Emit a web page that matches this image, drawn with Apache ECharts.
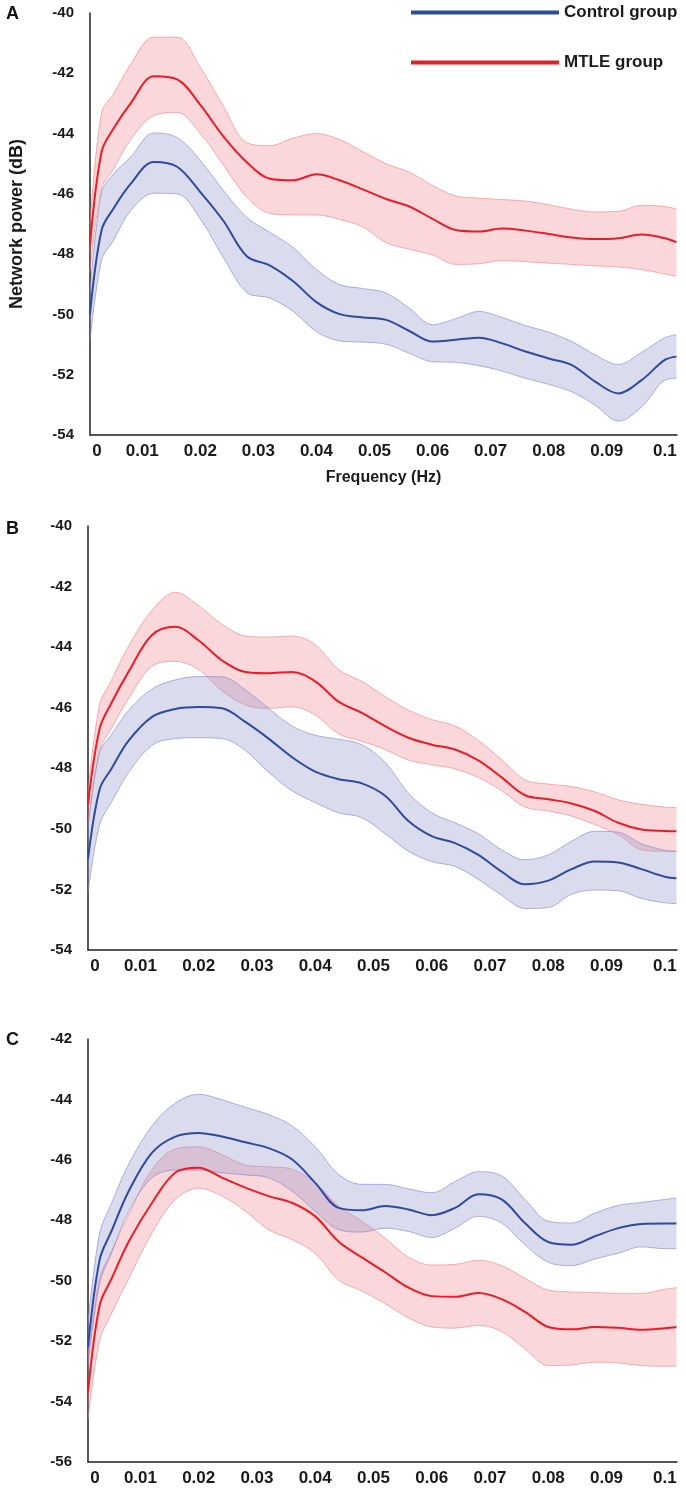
<!DOCTYPE html>
<html>
<head>
<meta charset="utf-8">
<script src="https://cdn.jsdelivr.net/npm/echarts@6/dist/echarts.min.js"></script>
<style>
html, body { margin: 0; padding: 0; background: #fff; }
#main { width: 686px; height: 1492px; }
</style>
</head>
<body>
<div id="main"></div>
<script>
// frequency (Hz) of each sampled point
const freq = [0.001, 0.003, 0.005, 0.008, 0.012, 0.016, 0.020, 0.024, 0.028, 0.032, 0.036, 0.040, 0.044,
  0.048, 0.052, 0.056, 0.060, 0.064, 0.068, 0.072, 0.076, 0.080, 0.084, 0.088, 0.092, 0.096, 0.100, 0.102];
const xTickValues = [0.001, 0.01, 0.02, 0.03, 0.04, 0.05, 0.06, 0.07, 0.08, 0.09, 0.1];

// panel A
const aCtrlMean = [-50.0, -47.2, -46.5, -45.67, -44.94, -45.1, -45.94, -46.9, -48.07, -48.38, -48.9, -49.59, -49.99,
  -50.1, -50.18, -50.55, -50.9, -50.84, -50.77, -50.96, -51.23, -51.46, -51.68, -52.23, -52.62, -52.18, -51.51, -51.4];
const aCtrlHigh = [-49.3, -45.94, -45.35, -44.78, -43.98, -44.13, -44.89, -45.89, -46.78, -47.28, -47.78, -48.51, -49.01,
  -49.14, -49.29, -49.79, -50.34, -50.14, -49.9, -50.1, -50.37, -50.59, -50.9, -51.34, -51.66, -51.26, -50.77, -50.68];
const aCtrlLow = [-50.9, -48.2, -47.56, -46.56, -45.98, -46.0, -46.83, -48.12, -49.27, -49.46, -49.9, -50.57, -50.88,
  -50.92, -50.99, -51.29, -51.57, -51.59, -51.7, -51.88, -52.12, -52.32, -52.57, -53.01, -53.54, -53.07, -52.18, -52.12];
const aMtleMean = [-47.7, -44.6, -43.85, -43.0, -42.1, -42.2, -43.05, -44.1, -44.95, -45.5, -45.55, -45.35, -45.55,
  -45.85, -46.17, -46.42, -46.83, -47.2, -47.25, -47.15, -47.22, -47.33, -47.45, -47.5, -47.47, -47.35, -47.47, -47.6];
const aMtleHigh = [-47.0, -43.3, -42.7, -41.7, -40.8, -40.8, -41.8, -43.1, -44.3, -44.4, -44.15, -44.0, -44.2,
  -44.6, -45.0, -45.28, -45.72, -46.07, -46.14, -46.19, -46.24, -46.36, -46.51, -46.6, -46.58, -46.38, -46.42, -46.5];
const aMtleLow = [-48.6, -45.8, -45.2, -44.2, -43.4, -43.3, -44.0, -45.05, -46.1, -46.65, -46.7, -46.7, -46.85,
  -47.1, -47.62, -47.84, -48.03, -48.34, -48.32, -48.21, -48.25, -48.3, -48.34, -48.39, -48.43, -48.51, -48.66, -48.73];

// panel B
const bCtrlMean = [-51.0, -48.69, -48.02, -47.08, -46.3, -46.04, -45.98, -46.02, -46.47, -47.02, -47.63, -48.11, -48.36,
  -48.5, -48.91, -49.74, -50.24, -50.47, -50.86, -51.41, -51.83, -51.71, -51.33, -51.08, -51.11, -51.33, -51.58, -51.63];
const bCtrlHigh = [-50.0, -47.47, -46.9, -46.08, -45.38, -45.08, -44.97, -44.98, -45.41, -46.02, -46.6, -46.91, -47.04,
  -47.22, -47.8, -48.82, -49.47, -49.8, -50.16, -50.69, -51.02, -50.86, -50.41, -50.08, -50.11, -50.49, -50.71, -50.74];
const bCtrlLow = [-52.1, -49.86, -49.13, -48.13, -47.24, -47.02, -46.99, -47.02, -47.41, -48.13, -48.74, -49.13, -49.47,
  -49.63, -50.16, -50.74, -51.08, -51.24, -51.67, -52.19, -52.63, -52.6, -52.16, -52.02, -52.04, -52.3, -52.44, -52.47];
const bMtleMean = [-49.2, -46.69, -45.85, -44.8, -43.6, -43.33, -43.78, -44.44, -44.82, -44.86, -44.82, -45.13, -45.8,
  -46.17, -46.61, -46.99, -47.22, -47.38, -47.74, -48.3, -48.89, -49.02, -49.16, -49.41, -49.8, -50.02, -50.07, -50.08];
const bMtleHigh = [-48.8, -45.89, -45.1, -43.95, -42.78, -42.19, -42.63, -43.24, -43.63, -43.67, -43.63, -43.91, -44.74,
  -45.13, -45.63, -46.08, -46.39, -46.6, -47.08, -47.71, -48.38, -48.52, -48.6, -48.78, -49.04, -49.19, -49.28, -49.3];
const bMtleLow = [-49.8, -47.41, -46.69, -45.69, -44.63, -44.47, -44.74, -45.44, -45.91, -46.02, -45.97, -46.24, -46.86,
  -47.11, -47.38, -47.73, -47.88, -48.02, -48.3, -48.74, -49.28, -49.41, -49.58, -49.86, -50.19, -50.69, -50.74, -50.74];

// panel C
const cCtrlMean = [-52.2, -49.31, -48.37, -47.03, -45.76, -45.23, -45.11, -45.23, -45.42, -45.61, -45.98, -46.76, -47.59,
  -47.67, -47.53, -47.64, -47.83, -47.59, -47.14, -47.31, -48.09, -48.72, -48.81, -48.53, -48.26, -48.12, -48.11, -48.11];
const cCtrlHigh = [-51.4, -48.42, -47.45, -46.14, -44.87, -44.12, -43.83, -44.01, -44.26, -44.5, -44.87, -45.57, -46.48,
  -46.81, -46.81, -46.96, -47.09, -46.72, -46.39, -46.53, -47.31, -48.03, -48.09, -47.76, -47.51, -47.41, -47.31, -47.26];
const cCtrlLow = [-52.8, -50.09, -49.1, -47.7, -46.59, -46.34, -46.34, -46.43, -46.5, -46.59, -47.03, -47.7, -48.31,
  -48.39, -48.26, -48.37, -48.57, -48.26, -47.87, -48.09, -48.81, -49.39, -49.5, -49.28, -49.09, -48.88, -48.94, -48.94];
const cMtleMean = [-53.7, -50.81, -49.95, -48.7, -47.42, -46.42, -46.26, -46.59, -46.92, -47.2, -47.42, -47.87, -48.7,
  -49.23, -49.72, -50.23, -50.51, -50.53, -50.41, -50.61, -51.03, -51.53, -51.61, -51.53, -51.56, -51.62, -51.57, -51.53];
const cMtleHigh = [-52.5, -49.92, -49.05, -47.81, -46.31, -45.64, -45.57, -45.83, -46.17, -46.23, -46.31, -46.76, -47.53,
  -48.03, -48.59, -49.22, -49.48, -49.46, -49.32, -49.5, -49.92, -50.31, -50.37, -50.39, -50.42, -50.42, -50.28, -50.23];
const cMtleLow = [-54.6, -51.98, -51.1, -49.92, -48.42, -47.31, -46.94, -47.2, -47.7, -48.31, -48.64, -49.09, -49.98,
  -50.34, -50.76, -51.23, -51.53, -51.57, -51.48, -51.68, -52.26, -52.81, -52.79, -52.7, -52.72, -52.81, -52.83, -52.83];

const groupNames = ['Control group', 'MTLE group'];
const panelLetters = ['A', 'B', 'C'];
const yRanges = [[-54, -40], [-54, -40], [-56, -42]];

const panels = [
  { ctrl: [aCtrlMean, aCtrlLow, aCtrlHigh], mtle: [aMtleMean, aMtleLow, aMtleHigh] },
  { ctrl: [bCtrlMean, bCtrlLow, bCtrlHigh], mtle: [bMtleMean, bMtleLow, bMtleHigh] },
  { ctrl: [cCtrlMean, cCtrlLow, cCtrlHigh], mtle: [cMtleMean, cMtleLow, cMtleHigh] }
];

const FONT = '"Liberation Sans", Arial, sans-serif';
const gridTops = [13, 526, 1039];
const gridHeights = [422, 424, 423];

const style = {
  ctrl: { line: '#2d4a9e', fill: 'rgba(150,150,205,0.34)', edge: 'rgba(130,130,200,0.75)' },
  mtle: { line: '#ea1c26', fill: 'rgba(238,122,132,0.30)', edge: 'rgba(235,120,130,0.7)' }
};

const pair = ys => freq.map((f, i) => [f, ys[i]]);
// band rows are [value, freq] so the stacked dimension is the power value
const bandRow = ys => freq.map((f, i) => [ys[i], f]);

const grids = [], xAxes = [], yAxes = [], series = [];

panels.forEach((p, k) => {
  grids.push({ left: 88, top: gridTops[k], width: 589, height: gridHeights[k] });

  xAxes.push({
    type: 'value', gridIndex: k, min: 0.001, max: 0.1021,
    name: k === 0 ? 'Frequency (Hz)' : '',
    nameLocation: 'middle', nameGap: 35,
    nameTextStyle: { fontFamily: FONT, fontSize: 16, fontWeight: 'bold', color: '#1a1a1a' },
    axisLine: { show: true, onZero: false, lineStyle: { color: '#222', width: 1.5 } },
    axisTick: { show: false },
    splitLine: { show: false },
    axisLabel: {
      customValues: xTickValues,
      margin: 8,
      fontFamily: FONT, fontSize: 17, fontWeight: 'bold', color: '#1a1a1a',
      formatter: v => v < 0.005 ? '{z|0}' : String(v),
      rich: { z: { fontFamily: FONT, fontSize: 17, fontWeight: 'bold', color: '#1a1a1a', padding: [0, 0, 0, 14] } }
    }
  });

  yAxes.push({
    type: 'value', gridIndex: k, min: yRanges[k][0], max: yRanges[k][1], interval: 2,
    name: k === 0 ? 'Network power (dB)' : '',
    nameLocation: 'middle', nameGap: 64, nameRotate: 90,
    nameTextStyle: { fontFamily: FONT, fontSize: 18, fontWeight: 'bold', color: '#1a1a1a' },
    axisLine: { show: true, lineStyle: { color: '#222', width: 1.5 } },
    axisTick: { show: false },
    splitLine: { show: false },
    axisLabel: { margin: 16, fontFamily: FONT, fontSize: 15, fontWeight: 'bold', color: '#1a1a1a' }
  });

  // bands first (MTLE then control), mean lines on top
  [['mtle', p.mtle], ['ctrl', p.ctrl]].forEach(([key, arr], j) => {
    const [mean, low, high] = arr;
    const st = style[key];
    const stackId = 'band' + k + key;
    series.push({
      type: 'line', xAxisIndex: k, yAxisIndex: k, stack: stackId, stackStrategy: 'all',
      encode: { x: 1, y: 0 },
      data: bandRow(low), symbol: 'none', smooth: 0.35, silent: true, z: 1 + j,
      lineStyle: { color: st.edge, width: 0.8 }
    });
    series.push({
      type: 'line', xAxisIndex: k, yAxisIndex: k, stack: stackId, stackStrategy: 'all',
      encode: { x: 1, y: 0 },
      data: bandRow(high.map((h, i) => +(h - low[i]).toFixed(3))),
      symbol: 'none', smooth: 0.35, silent: true, z: 1 + j,
      lineStyle: { color: st.edge, width: 0.8 },
      areaStyle: { color: st.fill, opacity: 1 }
    });
  });

  [['mtle', p.mtle, 1], ['ctrl', p.ctrl, 0]].forEach(([key, arr, gi]) => {
    series.push({
      name: groupNames[gi], type: 'line', xAxisIndex: k, yAxisIndex: k,
      data: pair(arr[0]), symbol: 'none', smooth: 0.35, z: 5,
      color: style[key].line,
      lineStyle: { color: style[key].line, width: 2 }
    });
  });
});

const letterTops = [14, 529, 1040];

const option = {
  backgroundColor: '#fff',
  animation: false,
  grid: grids,
  xAxis: xAxes,
  yAxis: yAxes,
  legend: {
    data: groupNames,
    orient: 'vertical',
    left: 411, top: 4, padding: 0,
    itemWidth: 148, itemHeight: 4, itemGap: 33,
    icon: 'rect',
    textStyle: { fontFamily: FONT, fontSize: 17, fontWeight: 'bold', color: '#1a1a1a' }
  },
  graphic: panelLetters.map((t, k) => ({
    type: 'text', left: 6, top: letterTops[k] - 9,
    style: { text: t, fontFamily: FONT, fontSize: 18, fontWeight: 'bold', fill: '#111' }
  })),
  series: series
};

const chart = echarts.init(document.getElementById('main'), null, { renderer: 'canvas' });
chart.setOption(option);
</script>
</body>
</html>
